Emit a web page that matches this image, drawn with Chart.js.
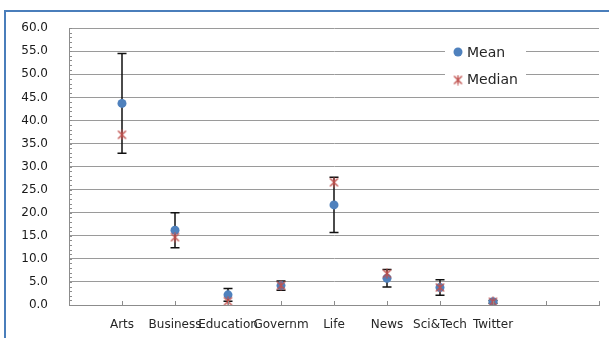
<!DOCTYPE html>
<html>
<head>
<meta charset="utf-8">
<script src="https://cdn.jsdelivr.net/npm/chart.js@4.4.1/dist/chart.umd.min.js"></script>
<style>
  html, body { margin: 0; padding: 0; background: #fff; overflow: hidden; width: 609px; height: 338px; }
  canvas { display: block; }
</style>
</head>
<body>
<canvas id="chart" width="609" height="338"></canvas>
<script>
'use strict';

const categories = ['Arts', 'Business', 'Education', 'Governm', 'Life', 'News', 'Sci&Tech', 'Twitter'];
const meanValues = [43.7, 16.2, 2.2, 4.2, 21.7, 5.8, 3.8, 0.7];
const medianValues = [36.9, 14.7, 0.8, 4.2, 26.6, 6.8, 3.8, 0.7];
const errorValues = [10.8, 3.8, 1.4, 1.0, 6.0, 1.9, 1.7, 0.3];

const FONT = 'DejaVu Sans';

// asterisk marker for the median series
function makeStar(color) {
    const c = document.createElement('canvas');
    c.width = 11;
    c.height = 11;
    const g = c.getContext('2d');
    g.strokeStyle = color;
    g.lineWidth = 1.3;
    g.beginPath();
    g.moveTo(1.5, 1.5); g.lineTo(9.5, 9.5);
    g.moveTo(9.5, 1.5); g.lineTo(1.5, 9.5);
    g.moveTo(5.5, 0.5); g.lineTo(5.5, 10.5);
    g.stroke();
    return c;
}
const starMark = makeStar('#c0504d');

function toPoints(values) {
    return values.map((v, i) => ({ x: i + 1, y: v }));
}

// blue frame running off the right and bottom edges
const frame = {
    id: 'frame',
    afterDraw(chart) {
        const ctx = chart.ctx;
        ctx.save();
        ctx.fillStyle = '#4a7ebb';
        ctx.fillRect(4, 10, chart.width, 2);
        ctx.fillRect(4, 10, 2, chart.height);
        ctx.restore();
    }
};

// error bars around the means, drawn under the markers
const errorBars = {
    id: 'errorBars',
    beforeDatasetsDraw(chart) {
        const { ctx, scales: { x, y } } = chart;
        ctx.save();
        ctx.strokeStyle = '#111';
        ctx.lineWidth = 1.5;
        meanValues.forEach((m, i) => {
            const px = x.getPixelForValue(i + 1);
            const top = y.getPixelForValue(m + errorValues[i]);
            const bot = y.getPixelForValue(m - errorValues[i]);
            ctx.beginPath();
            ctx.moveTo(px, top); ctx.lineTo(px, bot);
            ctx.moveTo(px - 4.5, top); ctx.lineTo(px + 4.5, top);
            ctx.moveTo(px - 4.5, bot); ctx.lineTo(px + 4.5, bot);
            ctx.stroke();
        });
        ctx.restore();
    }
};

// small inside tick marks on both axes
const axisTicks = {
    id: 'axisTicks',
    afterDraw(chart) {
        const { ctx, scales: { x, y } } = chart;
        ctx.save();
        ctx.strokeStyle = '#8c8c8c';
        ctx.lineWidth = 1;
        ctx.beginPath();
        for (let v = 0; v <= 60; v++) {
            const py = Math.round(y.getPixelForValue(v)) + 0.5;
            ctx.moveTo(x.left, py); ctx.lineTo(x.left + 3, py);
        }
        for (let v = 1; v <= 10; v++) {
            const px = Math.round(x.getPixelForValue(v)) + 0.5;
            ctx.moveTo(px, y.bottom); ctx.lineTo(px, y.bottom - 4);
        }
        ctx.stroke();
        ctx.restore();
    }
};

// legend box sitting inside the plot
const insideLegend = {
    id: 'insideLegend',
    afterDraw(chart) {
        const ctx = chart.ctx;
        const ds = chart.data.datasets;
        ctx.save();
        ctx.fillStyle = '#fff';
        ctx.fillRect(445, 40, 81, 46);
        ctx.fillStyle = ds[0].backgroundColor;
        ctx.beginPath();
        ctx.arc(458, 52, 4.5, 0, Math.PI * 2);
        ctx.fill();
        ctx.drawImage(starMark, 458 - 5.5, 80 - 5.5);
        ctx.fillStyle = '#262626';
        ctx.font = '14px "' + FONT + '"';
        ctx.textAlign = 'left';
        ctx.textBaseline = 'middle';
        ctx.fillText(ds[0].label, 467, 53);
        ctx.fillText(ds[1].label, 467, 80);
        ctx.restore();
    }
};

new Chart(document.getElementById('chart').getContext('2d'), {
    type: 'scatter',
    data: {
        datasets: [{
            label: 'Mean',
            data: toPoints(meanValues),
            pointStyle: 'circle',
            pointRadius: 4.5,
            backgroundColor: '#4f81bd',
            borderColor: '#4f81bd',
            borderWidth: 0,
            order: 2
        }, {
            label: 'Median',
            data: toPoints(medianValues),
            pointStyle: starMark,
            backgroundColor: '#c0504d',
            borderColor: '#c0504d',
            order: 1
        }]
    },
    options: {
        responsive: false,
        animation: false,
        layout: { padding: { left: 0, top: 27, right: 10, bottom: 0 } },
        plugins: {
            legend: { display: false },
            tooltip: { enabled: false }
        },
        scales: {
            x: {
                type: 'linear',
                min: 0,
                max: 10,
                afterFit(s) {
                    s.height = 33;
                    s.paddingLeft = 0;
                    s.paddingRight = 0;
                },
                grid: { drawOnChartArea: false, drawTicks: false },
                border: { color: '#8c8c8c' },
                ticks: {
                    stepSize: 1,
                    autoSkip: false,
                    maxRotation: 0,
                    padding: 13,
                    color: '#262626',
                    font: { family: FONT, size: 12 },
                    callback: v => categories[v - 1] || ''
                }
            },
            y: {
                min: 0,
                max: 60,
                afterFit(s) { s.width = 69; },
                grid: { color: '#9a9a9a', drawTicks: false },
                border: { color: '#8c8c8c' },
                ticks: {
                    stepSize: 5,
                    padding: 21,
                    color: '#1a1a1a',
                    font: { family: FONT, size: 12 },
                    callback: v => v.toFixed(1)
                }
            }
        }
    },
    plugins: [errorBars, axisTicks, insideLegend, frame]
});
</script>
</body>
</html>
